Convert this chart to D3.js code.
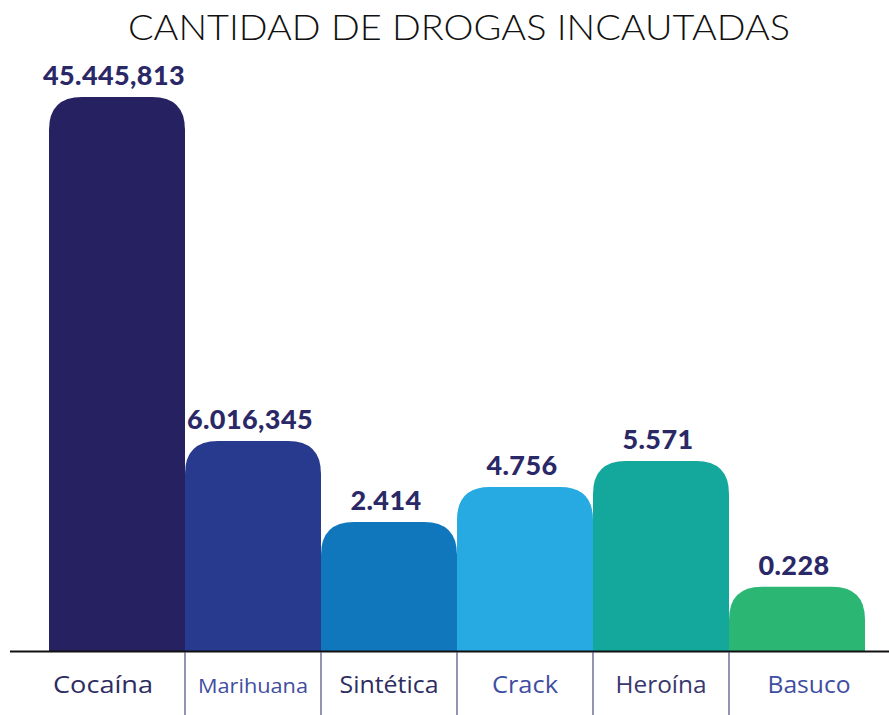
<!DOCTYPE html>
<html>
<head>
<meta charset="utf-8">
<script src="https://cdn.jsdelivr.net/npm/d3@7"></script>
<style>
  html, body { margin: 0; padding: 0; background: #fff; }
  svg { display: block; }
</style>
</head>
<body>
<div id="chart"></div>
<script>
(function () {
  const WIDTH = 889;
  const HEIGHT = 715;

  // categorías y etiquetas de valor tal como aparecen
  const drugs = ["Cocaína", "Marihuana", "Sintética", "Crack", "Heroína", "Basuco"];
  const valueLabels = ["45.445,813", "6.016,345", "2.414", "4.756", "5.571", "0.228"];
  // altura relativa de cada barra (la infografía no es proporcional), % de la más alta
  const barLevels = [100, 37.9, 23.3, 29.6, 34.3, 11.6];
  const barColors = ["#262261", "#283a8e", "#1177bd", "#27aae1", "#14a89c", "#2bb673"];
  // colores, tamaños y anchos de las etiquetas inferiores
  const labelColors = ["#2e2d62", "#3f4ea0", "#2e2d62", "#3f4ea0", "#38386e", "#3f4ea0"];
  const labelSizes = [25, 21, 24, 24, 24, 24];
  const labelWidths = [100, 110, 99, 66, 91, 83];

  const BASE = 651;
  const RADIUS = 33;

  const svg = d3.select("#chart").append("svg")
    .attr("width", WIDTH)
    .attr("height", HEIGHT);

  const x = d3.scaleBand()
    .domain(drugs)
    .range([49, 865])
    .padding(0);

  const y = d3.scaleLinear()
    .domain([0, 100])
    .range([BASE, 97]);

  // título
  svg.append("text")
    .attr("x", 459)
    .attr("y", 40)
    .attr("text-anchor", "middle")
    .attr("textLength", 662)
    .attr("lengthAdjust", "spacingAndGlyphs")
    .style("font-family", "Lato, 'Open Sans', sans-serif")
    .style("font-weight", 300)
    .style("font-size", "35px")
    .style("fill", "#111")
    .text("CANTIDAD DE DROGAS INCAUTADAS");

  // barra con esquinas superiores redondeadas
  function topRounded(x0, y0, w, h, r) {
    r = Math.min(r, h, w / 2);
    return `M${x0},${y0 + h}V${y0 + r}Q${x0},${y0} ${x0 + r},${y0}` +
      `H${x0 + w - r}Q${x0 + w},${y0} ${x0 + w},${y0 + r}V${y0 + h}Z`;
  }

  const data = drugs.map((d, i) => ({
    name: d, level: barLevels[i], label: valueLabels[i], color: barColors[i], i
  }));

  svg.selectAll("path.bar")
    .data(data)
    .join("path")
    .attr("class", "bar")
    .attr("fill", d => d.color)
    .attr("d", d => topRounded(x(d.name), y(d.level), x.bandwidth(), BASE - y(d.level), RADIUS));

  svg.selectAll("text.value")
    .data(data)
    .join("text")
    .attr("class", "value")
    .attr("x", d => x(d.name) + x.bandwidth() / 2 - 3)
    .attr("y", d => y(d.level) - 12)
    .attr("text-anchor", "middle")
    .style("font-family", "Lato, 'Open Sans', sans-serif")
    .style("font-weight", 900)
    .style("font-size", "27px")
    .style("letter-spacing", "0.4px")
    .style("fill", "#2a2866")
    .text(d => d.label);

  // línea base
  svg.append("line")
    .attr("x1", 10).attr("x2", WIDTH)
    .attr("y1", BASE + 0.5).attr("y2", BASE + 0.5)
    .attr("stroke", "#111")
    .attr("stroke-width", 2);

  // separadores bajo la línea base
  const seps = drugs.slice(1).map(d => x(d));
  svg.selectAll("line.sep")
    .data(seps)
    .join("line")
    .attr("class", "sep")
    .attr("x1", d => d).attr("x2", d => d)
    .attr("y1", BASE + 1).attr("y2", HEIGHT)
    .attr("stroke", "#4a4a80")
    .attr("stroke-width", 1.2);

  // celdas de las etiquetas: las de los extremos se amplían
  const edges = [21].concat(seps, [WIDTH]);

  svg.selectAll("text.cat")
    .data(data)
    .join("text")
    .attr("class", "cat")
    .attr("x", d => (edges[d.i] + edges[d.i + 1]) / 2)
    .attr("y", 693)
    .attr("text-anchor", "middle")
    .attr("textLength", d => labelWidths[d.i])
    .attr("lengthAdjust", "spacingAndGlyphs")
    .style("font-family", "'Open Sans', Lato, sans-serif")
    .style("font-size", d => (labelSizes[d.i] - 1) + "px")
    .style("fill", d => labelColors[d.i])
    .text(d => d.name);
})();
</script>
</body>
</html>
